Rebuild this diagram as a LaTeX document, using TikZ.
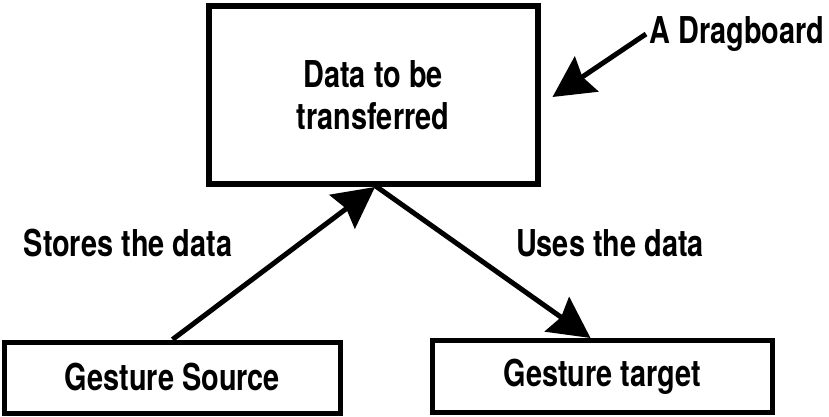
\documentclass[tikz,border=0pt]{standalone}
\usepackage{fontspec}
\setmainfont{TeX Gyre Heros}[FakeStretch=0.78]
\usetikzlibrary{arrows.meta}

\begin{document}
\begin{tikzpicture}[x=1pt, y=-1pt,
  box/.style={draw, line width=5pt, inner sep=0pt, align=center},
  lbl/.style={anchor=base, inner sep=0pt},
  arr/.style={line width=5pt, -{Stealth[length=41pt,width=42pt,inset=5pt]}},
  font=\fontsize{37}{42}\selectfont\bfseries]
\useasboundingbox (0, 0) rectangle (829, 417);
\node [box, line width=6pt, minimum width=329, minimum height=178] (data) at (373, 95) {Data to be\\transferred};
\node [box, minimum width=336, minimum height=71] (src) at (172.5, 377.5) {Gesture Source};
\node [box, minimum width=340, minimum height=72] (tgt) at (602.5, 376.5) {Gesture target};
\node [lbl] (stores) at (128, 256) {Stores the data};
\node [lbl] (uses) at (610, 256) {Uses the data};
\node [lbl] (board) at (737, 44) {A Dragboard};
\coordinate (bstart) at (646, 34);
\draw [arr] (src.north) -- ([xshift=2pt]data.south);
\draw [arr, shorten <=-2pt] ([xshift=4pt]data.south) -- ([xshift=-12pt]tgt.north);
\draw [arr] (bstart) -- ([xshift=12pt, yshift=-2pt]data.east);
\end{tikzpicture}
\end{document}
